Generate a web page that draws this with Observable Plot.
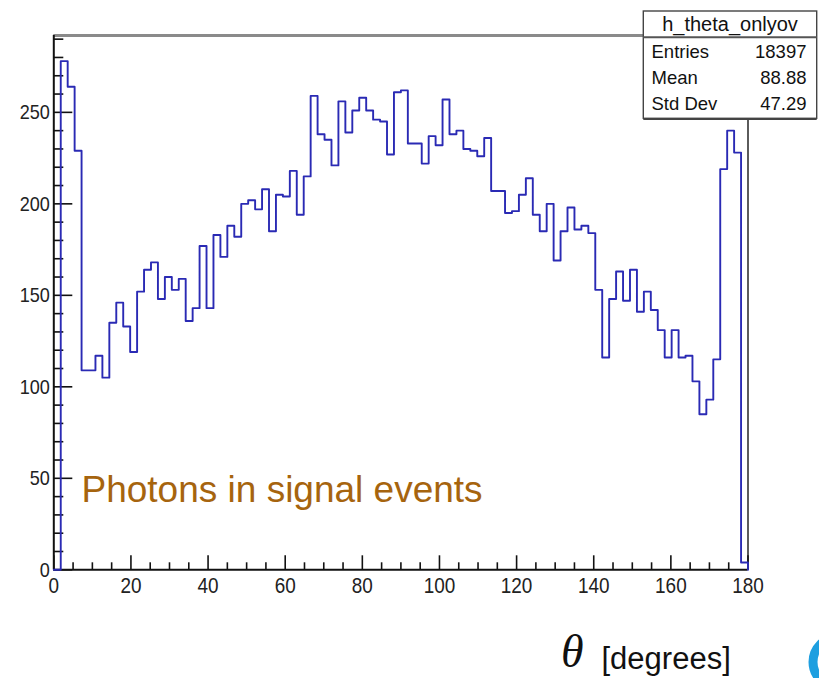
<!DOCTYPE html>
<html><head><meta charset="utf-8">
<script src="https://cdn.jsdelivr.net/npm/d3@7"></script>
<script src="https://cdn.jsdelivr.net/npm/@observablehq/plot@0.6"></script>
<style>
body{margin:0;background:#fff;}
#chart{position:relative;width:819px;height:678px;overflow:hidden;background:#fff;}
</style></head><body><div id="chart"></div>
<script>
// ---- data ----
const binLow = 0;
const binHigh = 180;
const counts = [
  0,278,264,229,109,109,117,105,135,146,
  133,119,152,164,168,148,160,153,159,136,
  143,177,143,183,171,188,182,200,202,197,
  208,185,205,204,218,194,215,259,238,235,
  221,256,239,251,258,251,246,245,227,261,
  262,233,233,222,237,232,257,238,240,230,
  229,226,236,207,207,195,196,205,214,194,
  185,200,169,185,198,186,188,184,153,116,
  148,163,147,164,141,152,142,131,116,131,
  116,117,103,85,93,115,219,240,228,4
];
const xTickLabels = [0,20,40,60,80,100,120,140,160,180];
const yTickLabels = [0,50,100,150,200,250];
const statsName = "h_theta_onlyov";
const statsLabels = ["Entries","Mean","Std Dev"];
const statsValues = ["18397","88.88","47.29"];
const annotationText = "Photons in signal events";
const axisSymbol = "θ";
const axisUnit = "[degrees]";
const yMax = 292;

// ---- derived ----
const nBins = counts.length;
const bw = (binHigh - binLow) / nBins;
const steps = counts.map((c, i) => ({x: binLow + i * bw, y: c}));
steps.push({x: binHigh, y: counts[nBins - 1]});
steps.push({x: binHigh, y: 0});
const xMinor = d3.range(0, 181, 5).filter(v => v % 20 !== 0);
const yMinor = d3.range(0, yMax, 10).filter(v => v % 50 !== 0);

const W = 819, H = 678, ml = 53.3, mr = 71.5, mt = 35, mb = 108.7;
const plotW = W - ml - mr, plotH = H - mt - mb;
const sans = "'Liberation Sans',Arial,Helvetica,sans-serif";

const chart = Plot.plot({
  width: W, height: H,
  marginLeft: ml, marginRight: mr, marginTop: mt, marginBottom: mb,
  style: {background: "white", fontFamily: sans, overflow: "visible"},
  x: {domain: [binLow, binHigh], label: null},
  y: {domain: [0, yMax], label: null},
  marks: [
    Plot.ruleY([yMax], {stroke: "#8a8a8a", strokeWidth: 3}),
    Plot.ruleX([binHigh], {stroke: "#333", strokeWidth: 1.6}),
    Plot.tickY(yMinor, {y: d => d, stroke: "#111", strokeWidth: 1.6, insetRight: plotW - 10}),
    Plot.tickY(yTickLabels, {y: d => d, stroke: "#111", strokeWidth: 1.6, insetRight: plotW - 19}),
    Plot.tickX(xMinor, {x: d => d, stroke: "#111", strokeWidth: 1.6, insetTop: plotH - 7}),
    Plot.tickX(xTickLabels, {x: d => d, stroke: "#111", strokeWidth: 1.6, insetTop: plotH - 14}),
    Plot.ruleX([binLow], {stroke: "#111", strokeWidth: 2}),
    Plot.ruleY([0], {stroke: "#111", strokeWidth: 2}),
    Plot.axisY({ticks: yTickLabels, tickSize: 0, tickPadding: 4, fontSize: 21, color: "#222", label: null, tickFormat: d => String(d)}),
    Plot.axisX({ticks: xTickLabels, tickSize: 0, tickPadding: 8, fontSize: 22, color: "#222", label: null, tickFormat: d => String(d)}),
    Plot.line(steps, {x: "x", y: "y", curve: "step-after", stroke: "#2a2ab4", strokeWidth: 1.9})
  ]
});
document.getElementById("chart").appendChild(chart);

const svg = d3.select(chart);
// condense tick labels horizontally (ROOT narrow look)
svg.selectAll("g[aria-label='x-axis tick label'] text, g[aria-label='y-axis tick label'] text").each(function() {
  const w = this.getComputedTextLength();
  if (w > 0) { this.setAttribute("textLength", (w * 0.86).toFixed(2)); this.setAttribute("lengthAdjust", "spacingAndGlyphs"); }
});

// annotation
svg.append("text").attr("x", 81.5).attr("y", 502).attr("text-anchor", "start")
  .attr("font-family", sans).attr("font-size", 37).attr("fill", "#a6640e")
  .text(annotationText);
// x-axis title
svg.append("text").attr("x", 561).attr("y", 667).attr("text-anchor", "start")
  .attr("font-family", "'Liberation Serif','Times New Roman',serif").attr("font-style", "italic")
  .attr("font-size", 46).attr("fill", "#111").text(axisSymbol);
svg.append("text").attr("x", 601.5).attr("y", 669).attr("text-anchor", "start")
  .attr("font-family", sans).attr("font-size", 31).attr("fill", "#111").text(axisUnit);

// stats box
const bx = 643.3, by = 11, bwid = 173.4, bh = 107.3;
const g = svg.append("g");
g.append("rect").attr("x", bx).attr("y", by).attr("width", bwid).attr("height", bh)
  .attr("fill", "white").attr("stroke", "#444").attr("stroke-width", 1.4);
g.append("line").attr("x1", bx).attr("x2", bx + bwid).attr("y1", by + bh + 1).attr("y2", by + bh + 1)
  .attr("stroke", "#444").attr("stroke-width", 1.5);
g.append("line").attr("x1", bx).attr("x2", bx + bwid).attr("y1", 37.3).attr("y2", 37.3)
  .attr("stroke", "#555").attr("stroke-width", 2);
g.append("text").attr("x", bx + bwid / 2).attr("y", 30.7).attr("text-anchor", "middle")
  .attr("font-family", sans).attr("font-size", 20).attr("fill", "#111").text(statsName);
const rowY = [57.5, 83.5, 109.5];
statsLabels.forEach((lab, i) => {
  g.append("text").attr("x", 651.5).attr("y", rowY[i]).attr("text-anchor", "start")
    .attr("font-family", sans).attr("font-size", 18.5).attr("fill", "#111").text(lab);
  g.append("text").attr("x", 806.5).attr("y", rowY[i]).attr("text-anchor", "end")
    .attr("font-family", sans).attr("font-size", 18.5).attr("fill", "#111").text(statsValues[i]);
});

// logo fragment bottom-right
svg.append("circle").attr("cx", 838).attr("cy", 662).attr("r", 25)
  .attr("fill", "none").attr("stroke", "#1e9fe0").attr("stroke-width", 9);
</script>
</body></html>
